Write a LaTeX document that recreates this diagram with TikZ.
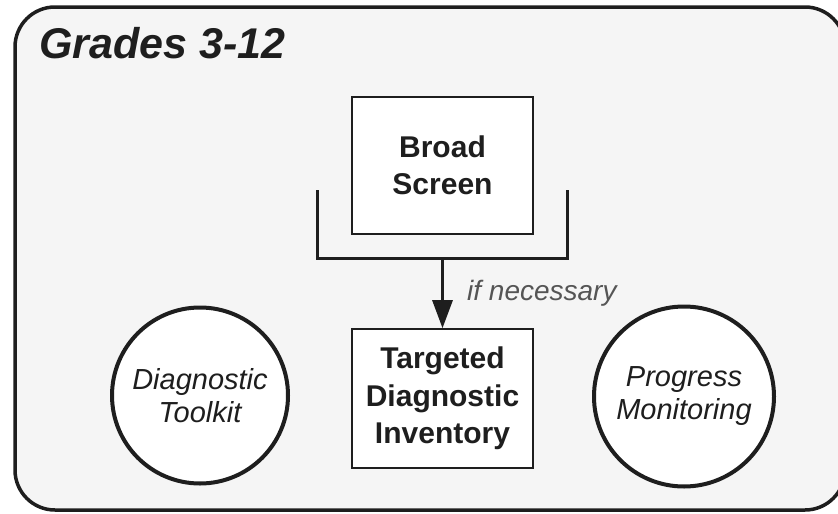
\documentclass[tikz,border=0pt]{standalone}
\usepackage{fontspec}
\setmainfont{Liberation Sans}
\usetikzlibrary{arrows.meta}

\definecolor{panelfill}{HTML}{F5F5F5}
\definecolor{ink}{HTML}{1E1E1E}
\definecolor{notegray}{HTML}{555555}

\tikzset{
  panel/.style={draw=ink, line width=3.5pt, fill=panelfill, rounded corners=40pt},
  stagebox/.style={draw=ink, line width=1.6pt, fill=white, align=center,
    text=ink, inner sep=0pt, font=\fontsize{30}{37.5}\selectfont\bfseries},
  toolcircle/.style={draw=ink, line width=4pt, fill=white, circle, align=center,
    text=ink, inner sep=0pt, font=\fontsize{29}{33}\selectfont\itshape},
  bracket/.style={draw=ink, line width=3pt},
  flow/.style={draw=ink, line width=3pt, -{Triangle[width=20pt,length=28pt]}},
  note/.style={text=notegray, font=\fontsize{28}{32}\selectfont\itshape, anchor=base west, inner sep=0pt},
  heading/.style={text=ink, font=\fontsize{43}{50}\selectfont\bfseries\itshape, anchor=base west, inner sep=0pt}
}

\begin{document}
\begin{tikzpicture}[x=1pt,y=-1pt]
  \useasboundingbox (0,0) rectangle (838,514);
  \fill[white] (0,0) rectangle (838,514);

  % outer panel
  \path[panel] (15,7) rectangle (845,510);
  \node[heading] (title) at (39,58) {Grades 3-12};

  % broad screen and its collecting bracket
  \node[stagebox, minimum width=181pt, minimum height=137pt] (broad) at (442.5,165.5) {Broad\\Screen};
  \coordinate (bl) at (317,190);
  \coordinate (br) at (567,190);
  \coordinate (fork) at (442.5,258);
  \draw[bracket] (bl) |- (fork) -| (br);

  % targeted diagnostic inventory
  \node[stagebox, minimum width=181pt, minimum height=139pt] (target) at (442.5,398.5) {Targeted\\Diagnostic\\Inventory};
  \draw[flow] (fork) -- (target.north);
  \node[note] (cond) at (467,300) {if necessary};

  % side tools
  \node[toolcircle, minimum size=176pt] (toolkit) at (200,395.5) {Diagnostic\\Toolkit};
  \node[toolcircle, minimum size=180pt] (monitor) at (684,396.5) {Progress\\Monitoring};
\end{tikzpicture}
\end{document}
